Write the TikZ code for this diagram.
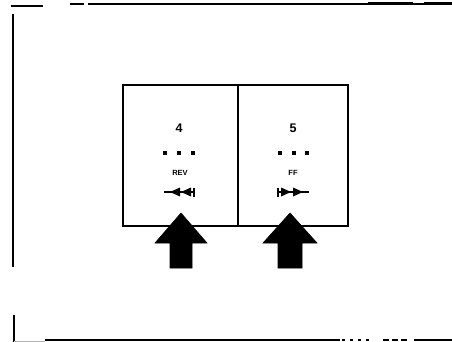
\documentclass[tikz,border=0pt]{standalone}
\usepackage{fontspec}
\setmainfont{Liberation Sans}
\begin{document}
\begin{tikzpicture}[x=1pt,y=-1pt,
  frame/.style={line width=2pt, black},
  keybox/.style={draw, line width=2.2pt, minimum width=115pt, minimum height=141pt, inner sep=0pt, anchor=north west},
  num/.style={font=\bfseries\fontsize{12.5}{13}\selectfont, inner sep=0pt},
  lbl/.style={font=\bfseries\fontsize{7.5}{8}\selectfont, inner sep=0pt},
  dotsq/.style={fill=black, minimum size=4pt, inner sep=0pt},
  bigarrow/.style={fill=black, draw=black, line width=0.6pt},
  gapline/.style={white, line width=2pt}
]
\useasboundingbox (0,0) rectangle (452,342);
% outer frame (scanned, broken)
\draw[frame] (11,6) -- (43,6);
\draw[frame] (70,4) -- (84,4);
\draw[frame] (88,4) -- (452,4);
\draw[line width=3pt] (368,3.5) -- (413,3.5);
\draw[line width=3pt] (424,3.5) -- (452,3.5);
\draw[frame] (13,14) -- (13,267);
\draw[frame] (14,315) -- (14,342);
\draw[gray!60, line width=0.8pt] (14,341) -- (45,341);
\draw[frame] (45,340) -- (340,340);
\draw[frame, dash pattern=on 3pt off 5pt] (342,340) -- (370,340);
\draw[frame, dash pattern=on 6pt off 3pt] (383,339.5) -- (410,339.5);
\draw[frame] (414,339.5) -- (452,339.5);
% key boxes
\node[keybox] (k4) at (122,84) {};
\node[keybox, minimum width=110pt] (k5) at (237,84) {};
% key 4
\node[num] (n4) at (179,128) {4};
\node[dotsq] (d4a) at (165,153) {};
\node[dotsq] (d4b) at (179,153) {};
\node[dotsq] (d4c) at (193,153) {};
\node[lbl] (t4) at (180,173) {REV};
\coordinate (r4) at (180,192);
\draw[line width=1.6pt] ([xshift=-16pt]r4) -- ([xshift=14pt]r4);
\fill ([xshift=-10pt]r4) -- ([xshift=0pt,yshift=-4.5pt]r4) -- ([xshift=0pt,yshift=4.5pt]r4) -- cycle;
\fill ([xshift=1pt]r4) -- ([xshift=11pt,yshift=-4.5pt]r4) -- ([xshift=11pt,yshift=4.5pt]r4) -- cycle;
\draw[line width=2.4pt] ([xshift=14pt,yshift=-4.5pt]r4) -- ([xshift=14pt,yshift=4.5pt]r4);
% key 5
\node[num] (n5) at (293,128) {5};
\node[dotsq] (d5a) at (280,153) {};
\node[dotsq] (d5b) at (294,153) {};
\node[dotsq] (d5c) at (307,153) {};
\node[lbl] (t5) at (293,173) {FF};
\coordinate (r5) at (293,192);
\draw[line width=1.6pt] ([xshift=-15pt]r5) -- ([xshift=16pt]r5);
\draw[line width=2.4pt] ([xshift=-15pt,yshift=-4.5pt]r5) -- ([xshift=-15pt,yshift=4.5pt]r5);
\fill ([xshift=-12pt,yshift=-4.5pt]r5) -- ([xshift=-2pt]r5) -- ([xshift=-12pt,yshift=4.5pt]r5) -- cycle;
\fill ([xshift=0pt,yshift=-4.5pt]r5) -- ([xshift=10pt]r5) -- ([xshift=0pt,yshift=4.5pt]r5) -- cycle;
% press arrows
\coordinate (a4) at (181,213);
\draw[bigarrow] (a4) -- ++(26,30) -- ++(-15,0) -- ++(0,25) -- ++(-22,0) -- ++(0,-25) -- ++(-15,0) -- cycle;
\draw[gapline] ([xshift=-20pt,yshift=31pt]a4) -- ([xshift=-9pt,yshift=31pt]a4);
\draw[gapline] ([xshift=9pt,yshift=31pt]a4) -- ([xshift=20pt,yshift=31pt]a4);
\draw[gapline] ([xshift=-8pt,yshift=53pt]a4) -- ([xshift=5pt,yshift=53pt]a4);
\coordinate (a5) at (290,213);
\draw[bigarrow] (a5) -- ++(27,30) -- ++(-15,0) -- ++(0,25) -- ++(-24,0) -- ++(0,-25) -- ++(-15,0) -- cycle;
\draw[gapline] ([xshift=-21pt,yshift=31pt]a5) -- ([xshift=-9pt,yshift=31pt]a5);
\draw[gapline] ([xshift=9pt,yshift=31pt]a5) -- ([xshift=21pt,yshift=31pt]a5);
\draw[gapline] ([xshift=-8pt,yshift=53pt]a5) -- ([xshift=6pt,yshift=53pt]a5);
\end{tikzpicture}
\end{document}
